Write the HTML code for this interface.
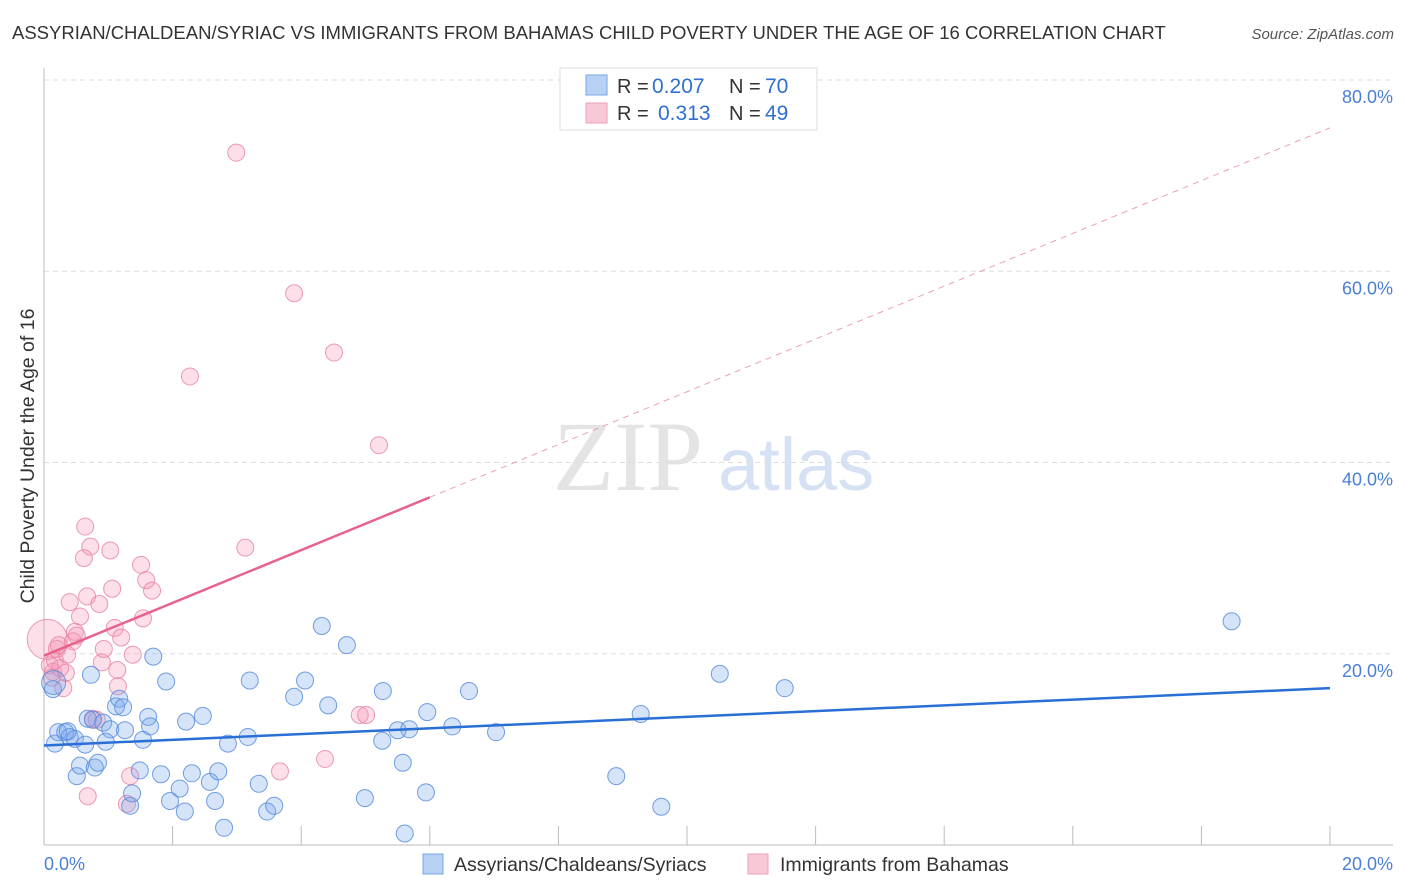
<!DOCTYPE html>
<html><head><meta charset="utf-8">
<style>
body{margin:0;background:#fff;font-family:"Liberation Sans",sans-serif;}
#wrap{position:relative;width:1406px;height:892px;overflow:hidden;}
</style></head>
<body>
<div id="wrap">
<svg id="chart" width="1406" height="892" xmlns="http://www.w3.org/2000/svg"></svg>
</div>
<script>
const blueX=[0.14,0.17,0.22,0.33,0.4,0.48,0.37,0.51,0.56,0.64,0.68,0.73,0.76,0.79,0.84,0.92,0.96,1.03,1.12,1.17,1.23,1.26,1.34,1.37,1.49,1.54,1.62,1.65,1.70,1.82,1.90,1.96,2.11,2.19,2.21,2.30,2.47,2.58,2.66,2.71,2.80,2.86,3.17,3.20,3.34,3.47,3.58,3.89,4.06,4.32,4.42,4.71,4.99,5.26,5.27,5.50,5.58,5.61,5.68,5.94,5.96,6.35,6.61,7.03,8.90,9.28,9.60,10.51,11.52,18.47,0.15];
const blueY=[16.3,10.6,11.8,11.8,11.3,11.1,11.9,7.2,8.3,10.5,13.2,17.8,13.1,8.1,8.6,12.8,10.8,12.1,14.5,15.3,14.4,12.0,4.1,5.4,7.8,11.0,13.4,12.4,19.7,7.4,17.1,4.6,5.9,3.5,12.9,7.5,13.5,6.6,4.6,7.7,1.8,10.6,11.3,17.2,6.4,3.5,4.1,15.5,17.2,22.9,14.6,20.9,4.9,10.9,16.1,12.0,8.6,1.2,12.1,5.5,13.9,12.4,16.1,11.8,7.2,13.7,4.0,17.9,16.4,23.4,17.0];
const blueR=[8.5,8.5,8.5,8.5,8.5,8.5,8.5,8.5,8.5,8.5,8.5,8.5,8.5,8.5,8.5,8.5,8.5,8.5,8.5,8.5,8.5,8.5,8.5,8.5,8.5,8.5,8.5,8.5,8.5,8.5,8.5,8.5,8.5,8.5,8.5,8.5,8.5,8.5,8.5,8.5,8.5,8.5,8.5,8.5,8.5,8.5,8.5,8.5,8.5,8.5,8.5,8.5,8.5,8.5,8.5,8.5,8.5,8.5,8.5,8.5,8.5,8.5,8.5,8.5,8.5,8.5,8.5,8.5,8.5,8.5,12];
const pinkX=[0.05,0.09,0.14,0.17,0.20,0.23,0.30,0.34,0.40,0.45,0.48,0.51,0.56,0.62,0.64,0.67,0.68,0.72,0.76,0.82,0.86,0.90,0.93,1.03,1.06,1.10,1.14,1.15,1.20,1.29,1.34,1.38,1.51,1.54,1.59,1.68,2.27,2.99,3.13,3.67,3.89,4.37,4.51,4.91,5.01,5.21,0.12,0.25,0.36];
const pinkY=[21.5,18.8,18.1,19.3,20.5,20.9,16.4,18.0,25.4,21.3,22.3,21.9,23.9,30.0,33.3,26.0,5.1,31.2,13.2,13.1,25.2,19.1,20.5,30.8,26.8,22.7,18.3,16.6,21.7,4.3,7.2,19.9,29.3,23.7,27.7,26.6,49.0,72.4,31.1,7.7,57.7,9.0,51.5,13.6,13.6,41.8,17.5,18.5,19.9];
const pinkR=[20,8.5,8.5,8.5,8.5,8.5,8.5,8.5,8.5,8.5,8.5,8.5,8.5,8.5,8.5,8.5,8.5,8.5,8.5,8.5,8.5,8.5,8.5,8.5,8.5,8.5,8.5,8.5,8.5,8.5,8.5,8.5,8.5,8.5,8.5,8.5,8.5,8.5,8.5,8.5,8.5,8.5,8.5,8.5,8.5,8.5,8.5,8.5,8.5];
const yTicks=[20,40,60,80];
const yTickLabels=["20.0%","40.0%","60.0%","80.0%"];
const blueTrend=[10.4,16.4];
const pinkTrend=[19.8,75.0];
const pinkSolidEnd=6.0;

const NS="http://www.w3.org/2000/svg";
const svg=document.getElementById('chart');
const X0=44,X1=1330,Y0=845,PPY=191.25/20;
const sx=v=>X0+(v/20)*(X1-X0);
const sy=v=>Y0-v*PPY;
function mk(tag,attrs,parent){const e=document.createElementNS(NS,tag);for(const k in attrs)e.setAttribute(k,attrs[k]);(parent||svg).appendChild(e);return e;}

let t=mk('text',{x:12,y:39,'font-size':18.5,fill:'#333'});


t.textContent='ASSYRIAN/CHALDEAN/SYRIAC VS IMMIGRANTS FROM BAHAMAS CHILD POVERTY UNDER THE AGE OF 16 CORRELATION CHART';
t=mk('text',{x:1394,y:39,'font-size':15,fill:'#555','text-anchor':'end','font-style':'italic'});


t.textContent='Source: ZipAtlas.com';

t=mk('text',{x:553,y:490,'font-size':100,fill:'#e4e4e4','font-family':'Liberation Serif,serif'});


t.textContent='ZIP';
t=mk('text',{x:718,y:490,'font-size':74,fill:'#d6e2f4'});


t.textContent='atlas';

yTicks.forEach((v,i)=>{
 const g=mk('line',{x1:X0,x2:1393,y1:sy(v),y2:sy(v),stroke:'#ddd','stroke-dasharray':'5,4'});
 
 
 const l=mk('text',{x:1393,y:sy(v)+23,'font-size':18,fill:'#4a7fd4','text-anchor':'end'});
 
 
 l.textContent=yTickLabels[i];
});
let a=mk('line',{x1:X0,x2:X0,y1:68,y2:Y0,stroke:'#bbb'});


a=mk('line',{x1:X0,x2:1393,y1:Y0,y2:Y0,stroke:'#bbb'});


for(let i=1;i<=10;i++){
 const k=mk('line',{x1:sx(i*2),x2:sx(i*2),y1:826,y2:Y0,stroke:'#bbb'});
 
 
}
t=mk('text',{x:44,y:870,'font-size':18,fill:'#4a7fd4'});


t.textContent='0.0%';
t=mk('text',{x:1393,y:870,'font-size':18,fill:'#4a7fd4','text-anchor':'end'});


t.textContent='20.0%';
t=mk('text',{x:34,y:456,'font-size':19.5,fill:'#333','text-anchor':'middle',transform:'rotate(-90 34 456)'});


t.textContent='Child Poverty Under the Age of 16';

pinkX.forEach((v,i)=>{
 const c=mk('circle',{cx:sx(v),cy:sy(pinkY[i]),r:pinkR[i],fill:'rgba(244,150,180,0.3)',stroke:'rgba(232,130,162,0.8)','stroke-width':1});
 
 
});
blueX.forEach((v,i)=>{
 const c=mk('circle',{cx:sx(v),cy:sy(blueY[i]),r:blueR[i],fill:'rgba(120,165,235,0.3)',stroke:'rgba(80,135,220,0.8)','stroke-width':1});
 
 
});
const pAt=x=>pinkTrend[0]+(pinkTrend[1]-pinkTrend[0])*x/20;
let ln=mk('line',{x1:sx(pinkSolidEnd),y1:sy(pAt(pinkSolidEnd)),x2:sx(20),y2:sy(pinkTrend[1]),stroke:'#e8a0b8','stroke-dasharray':'6,5','stroke-width':1});


ln=mk('line',{x1:sx(0),y1:sy(pinkTrend[0]),x2:sx(pinkSolidEnd),y2:sy(pAt(pinkSolidEnd)),stroke:'#e8628e','stroke-width':2.5});


ln=mk('line',{x1:sx(0),y1:sy(blueTrend[0]),x2:sx(20),y2:sy(blueTrend[1]),stroke:'#2a6fd6','stroke-width':2.5});



const lg=mk('g',{});


mk('rect',{x:560,y:68,width:257,height:62,fill:'#fff',stroke:'#ddd'},lg);
let s=mk('rect',{x:586,y:75,width:21,height:20,fill:'#b7d0f4',stroke:'#7aa6e6'},lg);


s=mk('rect',{x:586,y:103,width:21,height:20,fill:'#f9c8d6',stroke:'#eba0b8'},lg);


function lt(x,y,txt,col,name,fs){const e=mk('text',{x:x,y:y,'font-size':fs||20,fill:col},lg);e.textContent=txt;}
lt(617,93,'R =','#333','legend-r-label');
lt(652,93,'0.207','#2f6fd0','legend-r-blue',21);
lt(729,93,'N =','#333','legend-n-label');
lt(765,93,'70','#2f6fd0','legend-n-blue',21);
lt(617,120,'R =','#333','legend-r-label');
lt(658,120,'0.313','#2f6fd0','legend-r-pink',21);
lt(729,120,'N =','#333','legend-n-label');
lt(765,120,'49','#2f6fd0','legend-n-pink',21);

const bl=mk('g',{});


s=mk('rect',{x:423,y:854,width:20,height:20,fill:'#b7d0f4',stroke:'#7aa6e6'},bl);


t=mk('text',{x:454,y:871,'font-size':19.5,fill:'#333'},bl);


t.textContent='Assyrians/Chaldeans/Syriacs';
s=mk('rect',{x:748,y:854,width:20,height:20,fill:'#f9c8d6',stroke:'#eba0b8'},bl);


t=mk('text',{x:780,y:871,'font-size':19.5,fill:'#333'},bl);


t.textContent='Immigrants from Bahamas';
</script>
</body></html>
